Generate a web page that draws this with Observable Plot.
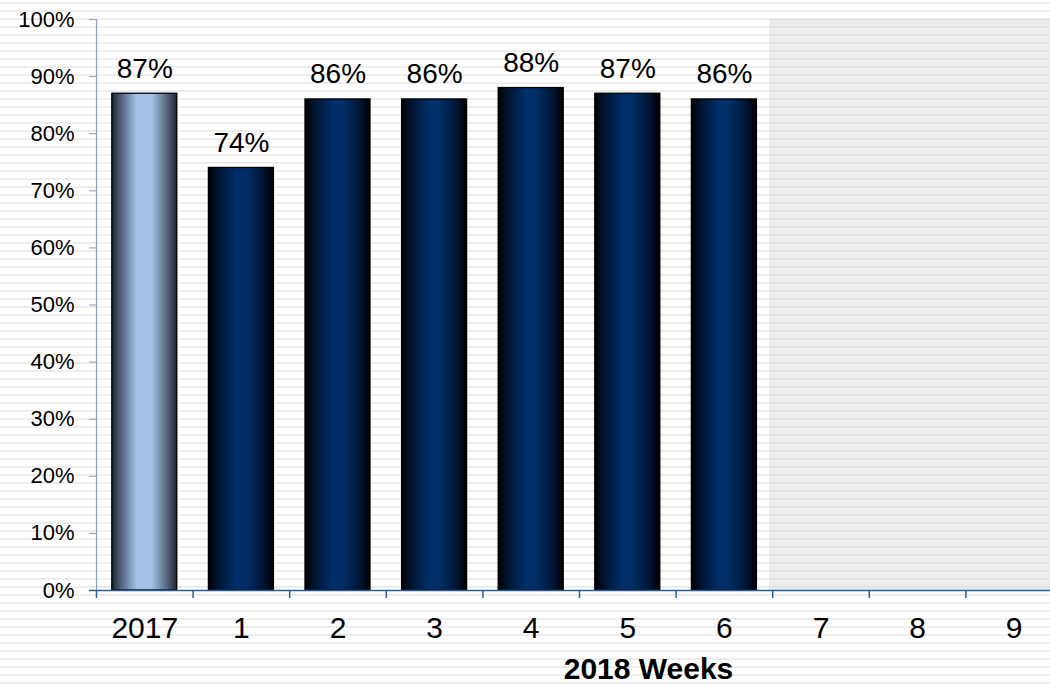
<!DOCTYPE html>
<html><head><meta charset="utf-8">
<script src="https://cdn.jsdelivr.net/npm/d3@7"></script>
<script src="https://cdn.jsdelivr.net/npm/@observablehq/plot@0.6"></script>
<style>
html,body{margin:0;padding:0;overflow:hidden;}
body{width:1050px;height:684px;background:repeating-linear-gradient(to bottom,#ffffff 0px,#ffffff 2px,#ededed 2px,#ededed 4px,#ffffff 4px,#ffffff 8px);font-family:"Liberation Sans",Arial,sans-serif;}
#chart svg{display:block;}
</style></head><body><div id="chart"></div>
<script>
const categories = ["2017","1","2","3","4","5","6","7","8","9"];
const values = [0.87,0.74,0.86,0.86,0.88,0.87,0.86,null,null,null];
const yTicks = [0,0.1,0.2,0.3,0.4,0.5,0.6,0.7,0.8,0.9,1.0];
const shadedFrom = "7";
const xLabel = "2018 Weeks";

const data = categories.map((c,i)=>({c, i, v: values[i]}));
const bars = data.filter(d=>d.v!=null);
const baseline = bars.filter(d=>d.c==="2017");
const weeks = bars.filter(d=>d.c!=="2017");
const shade = [{x1: categories.indexOf(shadedFrom), x2: categories.length}];
const pct = d3.format(".0%");

const chart = Plot.plot({
  width: 1050, height: 684,
  marginLeft: 96, marginRight: -12, marginTop: 19, marginBottom: 94,
  style: {background: "transparent", fontFamily: '"Liberation Sans", Arial, sans-serif', color: "#000"},
  x: {type: "linear", domain: [0, categories.length], axis: null},
  y: {domain: [0, 1], axis: null},
  marks: [
    Plot.rect(shade, {x1: "x1", x2: "x2", y1: 0, y2: 1, fill: "#cfcfcf", fillOpacity: 0.4, insetLeft: -3}),
    Plot.rectY(baseline, {x1: d=>d.i, x2: d=>d.i+1, y: "v", insetLeft: 15.8, insetRight: 15.8, fill: "url(#grad2017)", stroke: "#000", strokeWidth: 1.3}),
    Plot.rectY(weeks, {x1: d=>d.i, x2: d=>d.i+1, y: "v", insetLeft: 15.8, insetRight: 15.8, fill: "url(#gradWeek)", stroke: "#000", strokeWidth: 1.3}),
    Plot.text(bars, {x: d=>d.i+0.5, y: "v", text: d=>pct(d.v), dy: -16, lineAnchor: "bottom", fontSize: 28, fill: "#000"}),
    Plot.axisY({ticks: yTicks, tickFormat: pct, tickSize: 7, tickPadding: 15, fontSize: 22, stroke: "#8e9cc0", fill: "#000", label: null}),
    Plot.ruleX([0], {y1: 0, y2: 1, stroke: "#8e9cc0", strokeWidth: 1.2}),
    Plot.axisX({ticks: d3.range(0, categories.length), tickFormat: ()=>"", tickSize: 8, stroke: "#2a5d97", strokeWidth: 1.5, label: null}),
    Plot.ruleY([0], {stroke: "#2a5d97", strokeWidth: 1.6, insetLeft: -7}),
    Plot.axisX({ticks: categories.map((c,i)=>i+0.5), tickFormat: t=>categories[Math.floor(t)], tickSize: 0, tickPadding: 26, fontSize: 30, fill: "#000", label: null}),
    Plot.text([xLabel], {frameAnchor: "bottom", dx: 69, dy: 79, lineAnchor: "middle", fontWeight: "bold", fontSize: 30, fill: "#000"})
  ]
});

const svg = d3.select(chart);
const defs = svg.insert("defs", ":first-child");
function grad(id, stops){
  const g = defs.append("linearGradient").attr("id", id).attr("x1", "0%").attr("x2", "100%").attr("y1", "0%").attr("y2", "0%");
  stops.forEach(([o,c]) => g.append("stop").attr("offset", o).attr("stop-color", c));
}
grad("grad2017", [["0%","#1e232c"],["12%","#4a5a72"],["38%","#a4c0e6"],["62%","#a4c0e6"],["88%","#4a5a72"],["100%","#1e232c"]]);
grad("gradWeek", [["0%","#000000"],["15%","#001533"],["42%","#002e66"],["58%","#002e66"],["85%","#001533"],["100%","#000000"]]);
document.getElementById("chart").appendChild(chart);
</script></body></html>
